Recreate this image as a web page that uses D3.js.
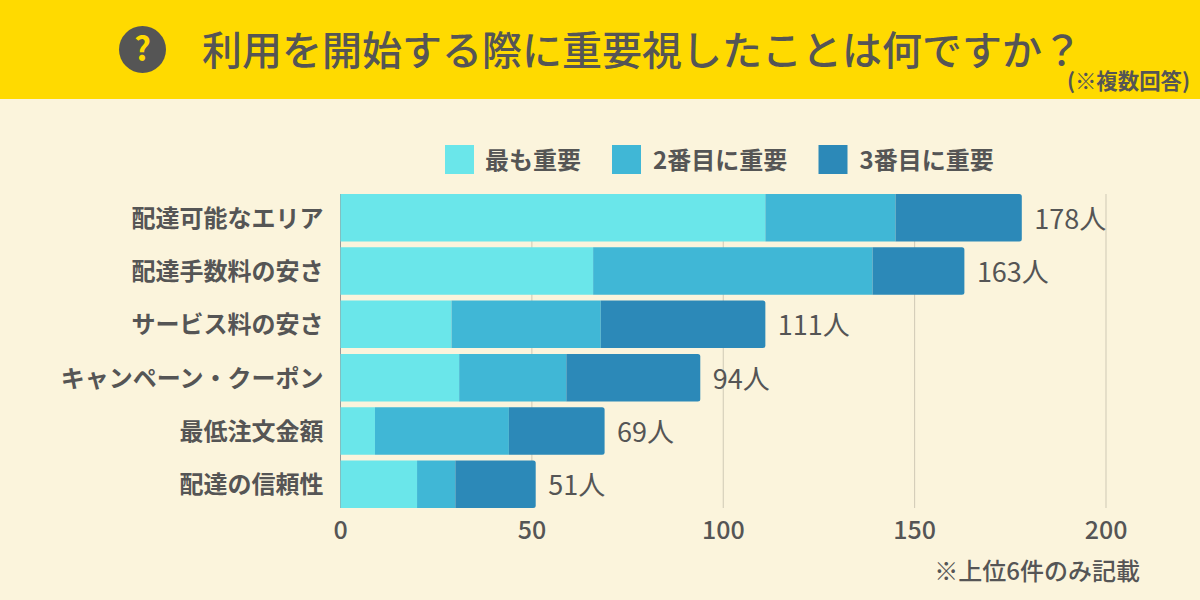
<!DOCTYPE html>
<html><head><meta charset="utf-8">
<script src="https://cdn.jsdelivr.net/npm/d3@7"></script>
<style>html,body{margin:0;padding:0;background:#FBF4DC;overflow:hidden}svg{display:block}
text{font-family:"Noto Sans CJK JP","Noto Sans",sans-serif;fill:#555555}</style></head><body>
<script>
const categories=["配達可能なエリア","配達手数料の安さ","サービス料の安さ","キャンペーン・クーポン","最低注文金額","配達の信頼性"];
const seriesNames=["最も重要","2番目に重要","3番目に重要"];
const first=[111,66,29,31,9,20];
const second=[34,73,39,28,35,10];
const third=[33,24,43,35,25,21];
const xTicks=[0,50,100,150,200];
const colors=["#6AE6EA","#40B7D6","#2C89B8"];
const titleText="利用を開始する際に重要視したことは何ですか？";

const svg=d3.select("body").append("svg").attr("width",1200).attr("height",600);
svg.append("rect").attr("width",1200).attr("height",600).attr("fill","#FBF4DC");
svg.append("rect").attr("width",1200).attr("height",99).attr("fill","#FFDA00");

// header
svg.append("circle").attr("cx",142.5).attr("cy",49.5).attr("r",23.5).attr("fill","#555555");
svg.append("text").attr("x",142.5).attr("y",61).attr("text-anchor","middle").attr("font-size",33).attr("font-weight",700).style("fill","#FFDA00").text("?");
svg.append("text").attr("x",202).attr("y",65).attr("font-size",40).attr("font-weight",500).text(titleText);
svg.append("text").attr("x",1190).attr("y",89).attr("text-anchor","end").attr("font-size",21.4).attr("font-weight",700).text("(※複数回答)");

const x=d3.scaleLinear().domain([0,200]).range([340.5,1106]);
const y=d3.scaleBand().domain(categories).range([194,508]).paddingInner(0.11).paddingOuter(0);

// grid
svg.append("g").selectAll("line").data(xTicks).join("line")
  .attr("x1",d=>x(d)).attr("x2",d=>x(d)).attr("y1",194).attr("y2",508)
  .attr("stroke",d=>d===0?"#999999":"#CFC9B5").attr("stroke-width",1);

// axis
const xAxis=svg.append("g").attr("transform","translate(-0.5,508)").call(d3.axisBottom(x).tickValues(xTicks).tickSize(0).tickPadding(13));
xAxis.select(".domain").remove();
xAxis.selectAll("text").attr("font-size",25).attr("font-weight",500).attr("font-family",null).style("font-family",'"Noto Sans CJK JP"');

const stack=d3.stack().keys([0,1,2]).value((d,k)=>d[k]);
const rows=categories.map((c,i)=>({0:first[i],1:second[i],2:third[i],c}));
const layers=stack(rows);
const r=2.5;
layers.forEach((layer,k)=>{
  svg.append("g").selectAll("path").data(layer).join("path").attr("fill",colors[k])
   .attr("d",d=>{
     const x0=x(d[0]),x1=x(d[1]),t=y(d.data.c),b=t+y.bandwidth();
     if(k<2) return `M${x0},${t}H${x1}V${b}H${x0}Z`;
     return `M${x0},${t}H${x1-r}Q${x1},${t} ${x1},${t+r}V${b-r}Q${x1},${b} ${x1-r},${b}H${x0}Z`;
   });
});

// category labels
svg.append("g").selectAll("text").data(categories).join("text")
  .attr("x",323.5).attr("y",d=>y(d)+y.bandwidth()/2+9).attr("text-anchor","end")
  .attr("font-size",24).attr("font-weight",700).text(d=>d);

// totals
svg.append("g").selectAll("text").data(rows).join("text")
  .attr("x",d=>x(d[0]+d[1]+d[2])+12.5).attr("y",d=>y(d.c)+y.bandwidth()/2+11)
  .attr("font-size",27).attr("font-weight",400).text(d=>(d[0]+d[1]+d[2])+"人");

// legend
const legendX=[445,612,818.5],legendTextX=[485,653,859.5];
const lg=svg.append("g");
seriesNames.forEach((n,i)=>{
  lg.append("rect").attr("x",legendX[i]).attr("y",145).attr("width",29).attr("height",29).attr("fill",colors[i]);
  lg.append("text").attr("x",legendTextX[i]).attr("y",169).attr("font-size",24).attr("font-weight",700).text(n);
});

svg.append("text").attr("x",1140).attr("y",580).attr("text-anchor","end").attr("font-size",24).attr("font-weight",500).text("※上位6件のみ記載");
</script></body></html>
